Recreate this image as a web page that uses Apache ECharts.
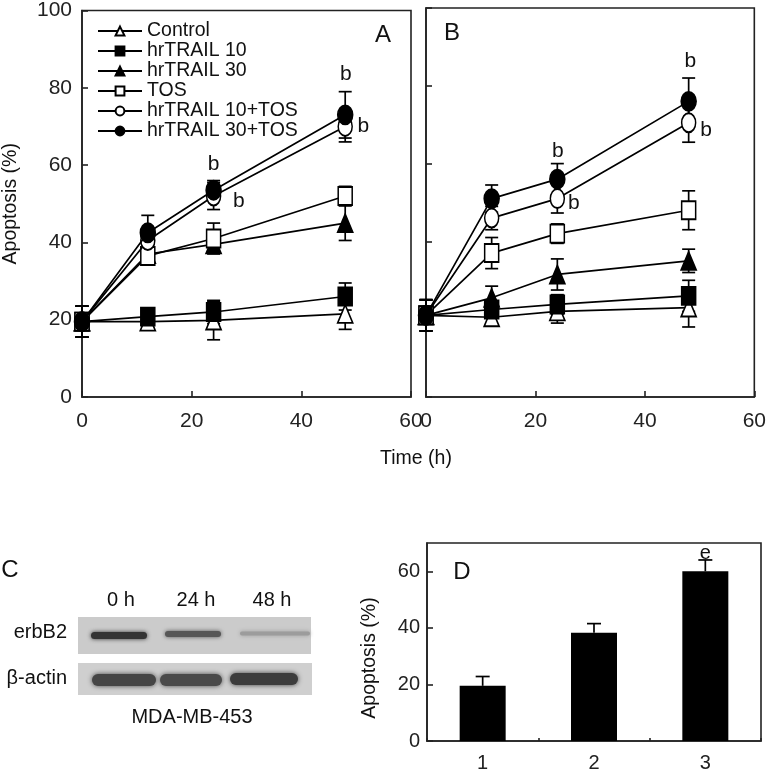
<!DOCTYPE html>
<html>
<head>
<meta charset="utf-8">
<script src="https://cdn.jsdelivr.net/npm/echarts@6/dist/echarts.min.js"></script>
<style>
html,body{margin:0;padding:0;background:#fff;}
#chart{width:769px;height:773px;}
</style>
</head>
<body>
<div id="chart"></div>
<script>
// ---------- DATA ----------
const timeH = [0, 12, 24, 48];
const lineNames = ['Control', 'hrTRAIL 10', 'hrTRAIL 30', 'TOS', 'hrTRAIL 10+TOS', 'hrTRAIL 30+TOS'];
// Panel A means / errors (rows follow lineNames)
const meansA = [
  [19.5, 19.5, 19.8, 21.5],
  [19.5, 20.8, 22.0, 26.0],
  [19.5, 37.0, 39.5, 45.0],
  [19.5, 36.5, 41.0, 52.0],
  [19.5, 40.5, 52.0, 70.0],
  [19.5, 42.5, 53.5, 73.0]
];
const errA = [
  [4, 1.5, 5, 4],
  [4, 2, 3, 3.5],
  [4, 2, 2, 4.5],
  [4, 2, 4, 2.5],
  [4, 3, 3.5, 4],
  [4, 4.5, 2.5, 6]
];
// Panel B means / errors
const meansB = [
  [21, 20.5, 22.0, 23.0],
  [21, 22.5, 23.8, 26.0],
  [21, 25.5, 31.5, 35.0],
  [21, 37.0, 42.0, 48.0],
  [21, 46.0, 51.0, 70.5],
  [21, 51.0, 56.0, 76.0]
];
const errB = [
  [4, 2, 3, 5],
  [4, 2, 2.5, 4],
  [4, 3, 4, 3],
  [4, 4, 2.5, 5],
  [4, 3, 3.7, 5],
  [4, 3.5, 4, 6]
];
// significance marks "b" (time, value)
const annA = [[48.1, 83.4], [51.3, 70.0], [24.0, 60.2], [28.6, 50.7]];
const annB = [[48.3, 86.2], [51.2, 68.7], [24.1, 63.3], [27.0, 49.9]];
// Panel D
const barCats = ['1', '2', '3'];
const barVals = [19.5, 38.3, 60.0];
const barErr = [3.3, 3.2, 4.0];
const barMarks = ['', '', 'e'];
// Panel C (western blot)
const laneLabels = ['0 h', '24 h', '48 h'];
const blotRows = ['erbB2', 'β-actin'];
const erbB2Intensity = [0.85, 0.65, 0.25];
const actinIntensity = [0.75, 0.72, 0.8];

// ---------- STYLE ----------
const FONT = "'Liberation Sans', Arial, sans-serif";
const symbols = ['triangle', 'rect', 'triangle', 'rect', 'circle', 'circle'];
const filled = [false, true, true, false, false, true];
const symSizes = [[15, 18], [14, 18], [15, 18], [14, 18], [14, 19], [15, 19]];

const chart = echarts.init(document.getElementById('chart'));

function errRender(capW, both) {
  return function (params, api) {
    const x = api.value(0), lo = api.value(1), hi = api.value(2);
    const pLo = api.coord([x, lo]);
    const pHi = api.coord([x, hi]);
    const st = { stroke: '#000', lineWidth: 1.7 };
    const ch = [
      { type: 'line', shape: { x1: pLo[0], y1: pLo[1], x2: pHi[0], y2: pHi[1] }, style: st },
      { type: 'line', shape: { x1: pHi[0] - capW, y1: pHi[1], x2: pHi[0] + capW, y2: pHi[1] }, style: st }
    ];
    if (both) ch.push({ type: 'line', shape: { x1: pLo[0] - capW, y1: pLo[1], x2: pLo[0] + capW, y2: pLo[1] }, style: st });
    return { type: 'group', children: ch };
  };
}

const series = [];
function addPanel(means, errs, ann, idx) {
  for (let s = 0; s < lineNames.length; s++) {
    series.push({
      type: 'custom', xAxisIndex: idx, yAxisIndex: idx, z: 1, silent: true,
      renderItem: errRender(6.5, true),
      encode: { x: 0, y: [1, 2] },
      data: timeH.map((t, i) => [t, means[s][i] - errs[s][i], means[s][i] + errs[s][i]])
    });
  }
  for (let s = 0; s < lineNames.length; s++) {
    series.push({
      type: 'line', name: lineNames[s], xAxisIndex: idx, yAxisIndex: idx, z: 3 + s,
      symbol: symbols[s], symbolSize: symSizes[s], showAllSymbol: true,
      lineStyle: { color: '#000', width: 1.7 },
      itemStyle: { color: filled[s] ? '#000' : '#fff', borderColor: '#000', borderWidth: 1.7, opacity: 1 },
      emphasis: { disabled: true },
      data: timeH.map((t, i) => [t, means[s][i]])
    });
  }
  series.push({
    type: 'scatter', xAxisIndex: idx, yAxisIndex: idx, symbolSize: 2, silent: true, z: 20,
    itemStyle: { color: 'rgba(0,0,0,0)', opacity: 1 },
    label: { show: true, position: 'inside', formatter: 'b', color: '#111', opacity: 1, fontSize: 21, fontFamily: FONT },
    labelLayout: { hideOverlap: false },
    data: ann
  });
}
addPanel(meansA, errA, annA, 0);
addPanel(meansB, errB, annB, 1);

// bar panel
series.push({
  type: 'bar', xAxisIndex: 2, yAxisIndex: 2, barWidth: 46, silent: true,
  itemStyle: { color: '#000' },
  label: { show: true, position: 'top', distance: 8, color: '#111', fontSize: 20, fontFamily: FONT,
    formatter: p => barMarks[p.dataIndex] },
  data: barVals
});
series.push({
  type: 'custom', xAxisIndex: 2, yAxisIndex: 2, z: 3, silent: true,
  renderItem: errRender(7, false),
  encode: { x: 0, y: [1, 2] },
  data: barCats.map((c, i) => [i, barVals[i], barVals[i] + barErr[i]])
});

function valAxis(gridIndex, min, max, interval, showLabel, extra) {
  return Object.assign({
    type: 'value', gridIndex, min, max, interval,
    axisLine: { show: true, onZero: false, lineStyle: { color: '#222', width: 1.6 } },
    axisTick: { show: true, inside: true, length: 6, lineStyle: { color: '#222', width: 1.6 } },
    splitLine: { show: false },
    axisLabel: { show: showLabel, color: '#222', fontSize: 21, fontFamily: FONT, margin: 10 }
  }, extra || {});
}

// blot graphics
const graphics = [];
const blotLeft = 78, blotRight = 311;
graphics.push({ type: 'rect', shape: { x: blotLeft, y: 617, width: blotRight - blotLeft, height: 37 }, style: { fill: '#cbcbcb' } });
graphics.push({ type: 'rect', shape: { x: blotLeft, y: 663, width: blotRight - blotLeft + 1, height: 32 }, style: { fill: '#cfcfcf' } });
const erbBand = [[91, 147, 635.5, 7], [165, 221, 634, 6], [240, 310, 633.5, 4]];
const actBand = [[92, 156, 680, 12], [160, 222, 680, 12], [230, 298, 679, 12]];
function bandColor(v) { const g = Math.round(200 - v * 175); return `rgb(${g},${g},${g})`; }
erbBand.forEach((b, i) => graphics.push({
  type: 'rect', shape: { x: b[0], y: b[2] - b[3] / 2, width: b[1] - b[0], height: b[3], r: b[3] / 2 },
  style: { fill: bandColor(erbB2Intensity[i]), shadowBlur: 4, shadowColor: bandColor(erbB2Intensity[i]) }
}));
actBand.forEach((b, i) => graphics.push({
  type: 'rect', shape: { x: b[0], y: b[2] - b[3] / 2, width: b[1] - b[0], height: b[3], r: b[3] / 2 },
  style: { fill: bandColor(actinIntensity[i]), shadowBlur: 5, shadowColor: bandColor(actinIntensity[i]) }
}));
const laneX = [121, 196, 272];
laneLabels.forEach((t, i) => graphics.push({ type: 'text', x: laneX[i], y: 600, style: { text: t, fill: '#111', font: `20px ${FONT}`, textAlign: 'center', textVerticalAlign: 'middle' } }));
const rowY = [632, 678];
blotRows.forEach((t, i) => graphics.push({ type: 'text', x: 67, y: rowY[i], style: { text: t, fill: '#111', font: `20px ${FONT}`, textAlign: 'right', textVerticalAlign: 'middle' } }));
graphics.push({ type: 'text', x: 192, y: 717, style: { text: 'MDA-MB-453', fill: '#111', font: `20px ${FONT}`, textAlign: 'center', textVerticalAlign: 'middle' } });
// panel letters & shared titles
const letters = [['A', 383, 35], ['B', 452, 33], ['C', 10, 570], ['D', 462, 572]];
letters.forEach(l => graphics.push({ type: 'text', x: l[1], y: l[2], style: { text: l[0], fill: '#111', font: `24px ${FONT}`, textAlign: 'center', textVerticalAlign: 'middle' } }));
graphics.push({ type: 'text', x: 416, y: 459, style: { text: 'Time (h)', fill: '#111', font: `19.5px ${FONT}`, textAlign: 'center', textVerticalAlign: 'middle' } });
graphics.push({ type: 'text', x: 370, y: 658, rotation: Math.PI / 2, style: { text: 'Apoptosis (%)', fill: '#111', font: `19.5px ${FONT}`, textAlign: 'center', textVerticalAlign: 'middle' } });

const option = {
  animation: false,
  backgroundColor: '#fff',
  textStyle: { fontFamily: FONT },
  grid: [
    { left: 79, top: 8, width: 332, height: 389, show: true, borderColor: '#222', borderWidth: 1.6, backgroundColor: 'transparent' },
    { left: 426, top: 8, width: 333, height: 389, show: true, borderColor: '#222', borderWidth: 1.6, backgroundColor: 'transparent' },
    { left: 427, top: 543, width: 334, height: 201, show: true, borderColor: '#222', borderWidth: 1.6, backgroundColor: 'transparent' }
  ],
  legend: {
    data: lineNames, orient: 'vertical', left: 92, top: 16,
    itemWidth: 44, itemHeight: 11, itemGap: 0,
    selectedMode: false,
    textStyle: { fontSize: 19.5, lineHeight: 20, color: '#111', fontFamily: FONT }
  },
  xAxis: [
    valAxis(0, 0, 60, 20, true, { axisLabel: { color: '#222', fontSize: 21, fontFamily: FONT, margin: 14 } }),
    valAxis(1, 0, 60, 20, true, { axisLabel: { color: '#222', fontSize: 21, fontFamily: FONT, margin: 14 } }),
    { type: 'category', gridIndex: 2, data: barCats,
      axisLine: { show: true, lineStyle: { color: '#222', width: 1.6 } },
      axisTick: { show: true, inside: true, length: 3, lineStyle: { color: '#222', width: 1.6 } },
      axisLabel: { color: '#222', fontSize: 20, fontFamily: FONT, margin: 12 } }
  ],
  yAxis: [
    valAxis(0, 0, 100, 20, true, { name: 'Apoptosis (%)', nameLocation: 'middle', nameGap: 61,
      nameTextStyle: { fontSize: 19.5, color: '#111', fontFamily: FONT } }),
    valAxis(1, 0, 100, 20, false),
    valAxis(2, 0, 70, 20, true, {
      axisLabel: { color: '#222', fontSize: 20, fontFamily: FONT, margin: 7, showMaxLabel: false } })
  ],
  graphic: graphics,
  series
};
chart.setOption(option);
</script>
</body>
</html>
